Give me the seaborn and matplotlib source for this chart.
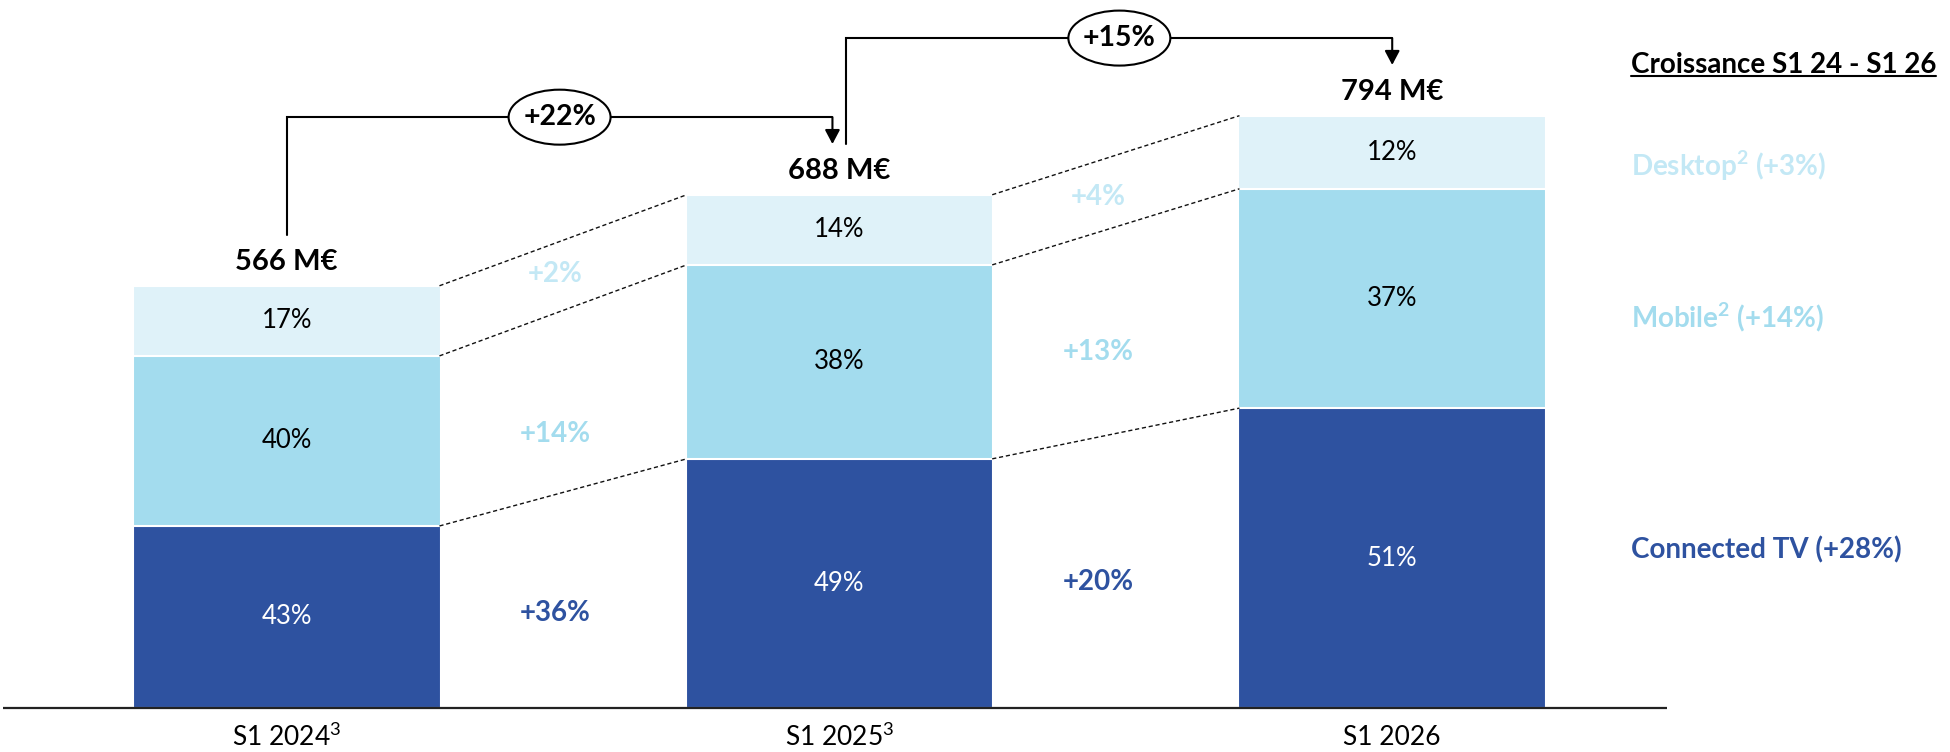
import numpy as np
import pandas as pd
import matplotlib
matplotlib.use("Agg")
import matplotlib.pyplot as plt
import seaborn as sns
from matplotlib.patches import Ellipse

# ---------------- data ----------------
periods = ["S1 2024", "S1 2025", "S1 2026"]
period_notes = ["3", "3", ""]
ctv = [244, 334, 402]        # M€
mobile = [228, 260, 294]     # M€
desktop = [94, 94, 98]       # M€
total_labels = ["566 M€", "688 M€", "794 M€"]
ctv_share = ["43%", "49%", "51%"]
mobile_share = ["40%", "38%", "37%"]
desktop_share = ["17%", "14%", "12%"]
ctv_growth = ["+36%", "+20%"]
mobile_growth = ["+14%", "+13%"]
desktop_growth = ["+2%", "+4%"]
total_growth = ["+22%", "+15%"]
legend_title = "Croissance S1 24 - S1 26"
legend_names = ["Desktop", "Mobile", "Connected TV"]
legend_notes = ["2", "2", ""]
legend_growth = ["(+3%)", "(+14%)", "(+28%)"]

# ---------------- style ----------------
C_CTV = "#2E52A0"
C_MOB = "#A3DCEE"
C_DESK = "#DFF2F9"
C_DESK_TXT = "#C3E8F5"

sns.set_theme(style="white")
plt.rcParams["font.family"] = ["Lato", "DejaVu Sans"]
plt.rcParams["mathtext.fontset"] = "custom"
plt.rcParams["mathtext.rm"] = "Lato"
plt.rcParams["mathtext.bf"] = "Lato:bold"
plt.rcParams["mathtext.it"] = "Lato"

fig = plt.figure(figsize=(19.5, 7.52), dpi=100)
ax = fig.add_axes([0, 0, 1, 1])

df = pd.DataFrame({"period": periods, "ctv": ctv, "mobile": mobile, "desktop": desktop})
df["mid"] = df["ctv"] + df["mobile"]
df["top"] = df["mid"] + df["desktop"]

W0 = 0.5527
W = W0 + 0.004
common = dict(x="period", order=periods, width=W, edgecolor="white", linewidth=1.5,
              saturation=1, errorbar=None, ax=ax)
sns.barplot(data=df, y="top", color=C_DESK, **common)
sns.barplot(data=df, y="mid", color=C_MOB, **common)
sns.barplot(data=df, y="ctv", color=C_CTV, **common)

ax.set_xlim(-0.5187, 3.0091)
ax.set_ylim(-58.98, 949.06)
ax.axis("off")

# baseline
ax.plot([-0.513, 2.497], [0, 0], color="#222222", lw=1.6, zorder=5, solid_capstyle="butt")

tops = df["top"].values
mids = df["mid"].values
ctvs = df["ctv"].values


def sup(base, note, bold=False):
    if not note:
        return base
    return base + (r"$^{\mathbf{%s}}$" % note if bold else r"$^{\mathrm{%s}}$" % note)


# segment labels
for i in range(3):
    ax.text(i, (mids[i] + tops[i]) / 2, desktop_share[i], ha="center", va="center", fontsize=18.5, color="black")
    ax.text(i, (ctvs[i] + mids[i]) / 2, mobile_share[i], ha="center", va="center", fontsize=18.5, color="black")
    ax.text(i, ctvs[i] / 2, ctv_share[i], ha="center", va="center", fontsize=18.5, color="white")
    ax.text(i, tops[i] + 32, total_labels[i], ha="center", va="center", fontsize=21, fontweight="bold", color="black")
    ax.text(i, -39.5, sup(periods[i], period_notes[i]), ha="center", va="center", fontsize=19, color="black")

# dashed connectors
for i in range(2):
    for lvl in (tops, mids, ctvs):
        ax.plot([i + W0 / 2, i + 1 - W0 / 2], [lvl[i], lvl[i + 1]], ls=(0, (3, 2)),
                color="#111111", lw=1.0, zorder=3)

# growth labels between bars
gx = [0.4854, 1.4677]
gy_desk = [582, 685]
gy_mob = [367, 477]
gy_ctv = [127, 169]
for i in range(2):
    ax.text(gx[i], gy_desk[i], desktop_growth[i], ha="center", va="center", fontsize=20, fontweight="bold", color=C_DESK_TXT)
    ax.text(gx[i], gy_mob[i], mobile_growth[i], ha="center", va="center", fontsize=20, fontweight="bold", color=C_MOB)
    ax.text(gx[i], gy_ctv[i], ctv_growth[i], ha="center", va="center", fontsize=20, fontweight="bold", color=C_CTV)

# growth arrows
pad = 68
levels = [792, 898]
dx = 0.0127
starts = [0, 1 + dx]
ends = [1 - dx, 2]
for i in range(2):
    s, e, L = starts[i], ends[i], levels[i]
    ax.plot([s, s, e], [tops[i] + pad, L, L], color="black", lw=1.5, zorder=6, solid_joinstyle="miter")
    ax.annotate("", xy=(e, tops[i + 1] + pad), xytext=(e, L),
                arrowprops=dict(arrowstyle="-|>,head_length=0.85,head_width=0.45", mutation_scale=10,
                                color="black", lw=1.5, shrinkA=0, shrinkB=0), zorder=6)
    cx = (s + e) / 2
    ax.add_patch(Ellipse((cx, L), 0.1845, 73.7, facecolor="white", edgecolor="black", lw=1.5, zorder=7))
    ax.text(cx, L, total_growth[i], ha="center", va="center", fontsize=20.5, fontweight="bold", color="black", zorder=8)

# right-hand legend
lx = 2.432
title_y = 862
t = ax.text(lx, title_y, legend_title, ha="left", va="center", fontsize=20, fontweight="bold", color="black")
leg_y = [727, 523, 212]
leg_c = [C_DESK_TXT, C_MOB, C_CTV]
for k in range(3):
    label = sup(legend_names[k], legend_notes[k], bold=True) + " " + legend_growth[k]
    ax.text(lx, leg_y[k], label, ha="left", va="center", fontsize=20, fontweight="bold", color=leg_c[k])

fig.canvas.draw()
bb = t.get_window_extent(renderer=fig.canvas.get_renderer())
inv = ax.transData.inverted()
(x0, _), (x1, _) = inv.transform([(bb.x0, 0), (bb.x1, 0)])
ax.plot([x0, x1], [title_y - 15, title_y - 15], color="black", lw=1.5)

fig.savefig("out.png", dpi=100)
